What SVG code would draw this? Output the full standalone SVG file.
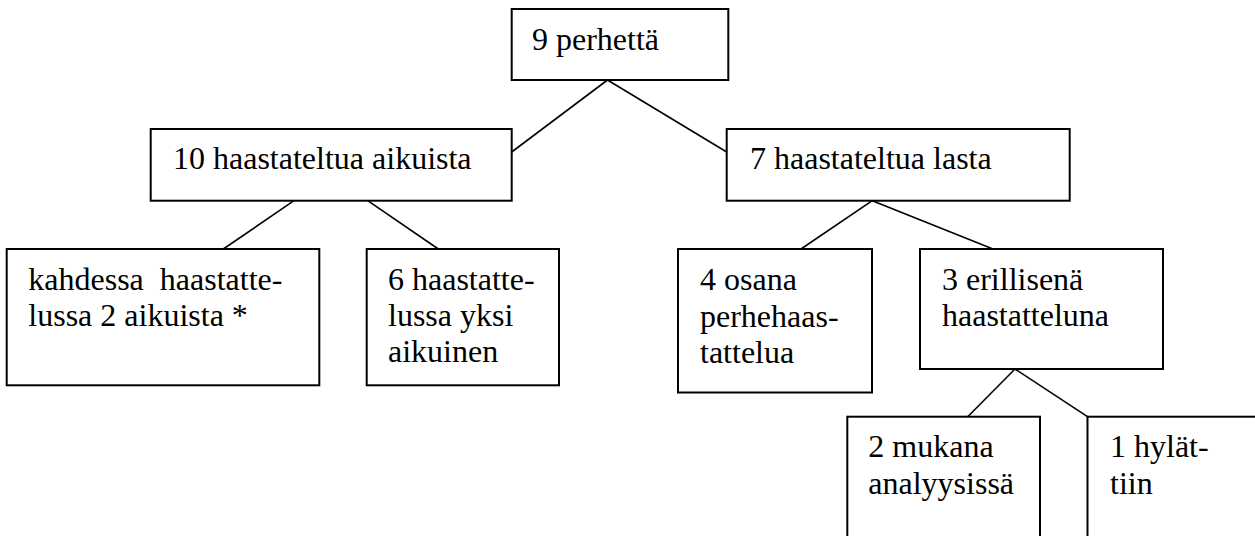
<svg xmlns="http://www.w3.org/2000/svg" width="1255" height="536" viewBox="0 0 1255 536">
<style>
.box{fill:#fff;stroke:#000;stroke-width:2}
.ln{stroke:#000;stroke-width:1.6;fill:none}
.t{font-family:"Liberation Serif","Times New Roman",serif;font-size:32px;fill:#000;white-space:pre}
</style>
<rect width="1255" height="536" fill="#fff"/>
<g id="connectors">
<line class="ln" x1="607.5" y1="80" x2="511.7" y2="152"/>
<line class="ln" x1="607.5" y1="80" x2="726.7" y2="152"/>
<line class="ln" x1="294" y1="200.7" x2="223.3" y2="249"/>
<line class="ln" x1="367.7" y1="200.7" x2="438.3" y2="249"/>
<line class="ln" x1="872.3" y1="200.7" x2="801" y2="249"/>
<line class="ln" x1="872.3" y1="200.7" x2="993" y2="249"/>
<line class="ln" x1="1015" y1="369" x2="967.7" y2="416.7"/>
<line class="ln" x1="1015" y1="369" x2="1087.5" y2="416.7"/>
</g>
<g id="n-perhetta">
<rect class="box" x="511.7" y="9" width="216.6" height="71"/>
<text class="t" x="532" y="50" font-family="Liberation Serif">9 perhettä</text>
</g>
<g id="n-aikuiset">
<rect class="box" x="150.7" y="129" width="361" height="71.7"/>
<text class="t" x="173" y="169">10 haastateltua aikuista</text>
</g>
<g id="n-lapset">
<rect class="box" x="726.7" y="129" width="343" height="71.7"/>
<text class="t" x="750" y="169">7 haastateltua lasta</text>
</g>
<g id="n-kahdessa">
<rect class="box" x="6.7" y="249" width="312.6" height="136.3"/>
<text class="t" x="28.3" y="290">kahdessa  haastatte-</text>
<text class="t" x="28.3" y="326">lussa 2 aikuista *</text>
</g>
<g id="n-kuusi">
<rect class="box" x="366.7" y="249" width="192.3" height="136.3"/>
<text class="t" x="388" y="290">6 haastatte-</text>
<text class="t" x="388" y="326">lussa yksi</text>
<text class="t" x="388" y="362">aikuinen</text>
</g>
<g id="n-osana">
<rect class="box" x="678" y="249" width="194" height="143.5"/>
<text class="t" x="700" y="290">4 osana</text>
<text class="t" x="700" y="326.5">perhehaas-</text>
<text class="t" x="700" y="363">tattelua</text>
</g>
<g id="n-erillisena">
<rect class="box" x="920" y="249" width="243" height="120"/>
<text class="t" x="942" y="290">3 erillisenä</text>
<text class="t" x="942" y="326">haastatteluna</text>
</g>
<g id="n-mukana">
<rect class="box" x="847.3" y="416.7" width="192.7" height="160"/>
<text class="t" x="868.3" y="457">2 mukana</text>
<text class="t" x="868.3" y="494">analyysissä</text>
</g>
<g id="n-hylattiin">
<rect class="box" x="1087.5" y="416.7" width="220" height="160"/>
<text class="t" x="1110" y="457">1 hylät-</text>
<text class="t" x="1110" y="494">tiin</text>
</g>
</svg>
